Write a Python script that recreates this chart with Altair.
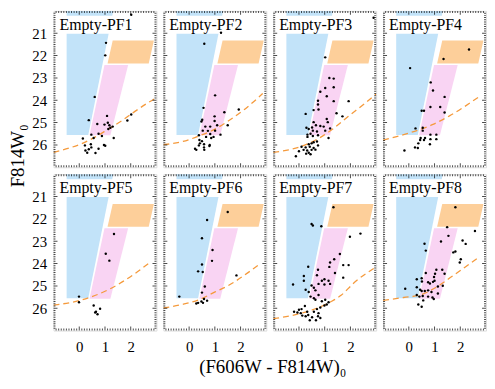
import altair as alt
import pandas as pd

FONT = "Liberation Serif"
PANELS = ["Empty-PF1", "Empty-PF2", "Empty-PF3", "Empty-PF4",
          "Empty-PF5", "Empty-PF6", "Empty-PF7", "Empty-PF8"]

X_DOMAIN = [-1, 3]
Y_DOMAIN = [20, 27]
X_TICKS = [0, 1, 2]
Y_TICKS = [21, 22, 23, 24, 25, 26]

# selection boxes (shared by all panels)
BLUE_Y = [20.0, 25.55]
BLUE_X1 = [-0.49, -0.49]
BLUE_X2 = [1.32, 0.35]
PINK_Y = [22.42, 25.57]
PINK_X1 = [0.98, 0.40]
PINK_X2 = [1.90, 1.21]
ORANGE_Y = [21.33, 22.35]
ORANGE_X1 = [1.30, 1.10]
ORANGE_X2 = [2.90, 2.70]

STAR_X = {
    "Empty-PF1": [2.02, 1.04, 1.01, 0.60, 0.37, 2.02, 1.87, 1.08, 0.70, 0.98, 1.11, 1.17, 1.30, 1.21, 1.13, 0.47, 0.75, 0.88, 0.56, 0.14, 1.34, 0.22, 0.45, 0.96, 1.01, 0.47, 0.75, 0.24, 0.37, 0.63, 0.31],
    "Empty-PF2": [1.24, 0.59, 1.01, 0.56, 1.37, 1.93, 0.51, 0.48, 0.99, 0.99, 0.63, 0.82, 1.09, 1.50, 0.53, 0.73, 1.01, 1.22, 0.38, 0.82, 0.66, 0.86, 0.95, 0.40, 0.50, 0.42, 0.58, 0.80, 0.79, 0.38, 0.58, 0.23, 0.28, 0.59],
    "Empty-PF3": [2.90, 1.02, 1.18, 1.35, 1.02, 0.83, 1.35, 1.08, 1.93, 0.74, 0.74, 1.35, 0.57, 0.76, 0.26, 1.46, 1.08, 1.69, 0.57, 1.12, 0.66, 0.51, 0.83, 0.96, 1.21, 0.29, 0.38, 0.54, 0.70, 1.02, 0.33, 0.45, 0.54, 0.33, 0.74, 1.15, 0.70, 0.57, 0.49, 0.38, 0.74, 0.10, 0.26, 0.42, 0.57, 0.18, 0.32, 0.49, 0.64, 0.00, 0.38, 0.28, 0.45, -0.12],
    "Empty-PF4": [2.34, 1.35, 0.05, 0.85, 0.94, 1.39, 1.22, 0.84, 0.50, 0.59, 1.39, 0.26, 0.54, 0.54, 0.84, 1.07, 0.46, 0.63, 0.44, 0.59, 0.84, 1.07, 0.37, 0.82, 0.24, 0.35, -0.17],
    "Empty-PF5": [1.35, 1.03, 1.17, -0.01, -0.01, 0.56, 0.81, 0.65, 0.71, 0.62],
    "Empty-PF6": [1.50, 0.70, 0.50, 0.91, 0.89, 0.50, 0.35, 0.53, 1.84, 0.61, 0.50, -0.38, 0.58, 0.70, 0.48, 0.35, 0.28, 0.54],
    "Empty-PF7": [1.34, 0.49, 0.54, 0.87, 2.39, 1.98, 1.59, 1.37, 1.21, 1.18, 1.72, 1.93, 0.36, 0.74, 1.40, 0.19, 0.19, 0.70, 0.89, 0.99, 1.15, 1.72, -0.23, 0.49, 0.58, 0.76, 0.99, 1.21, 0.26, 0.38, 0.64, 0.76, 0.45, 0.58, 0.64, 0.89, 1.02, 1.15, 1.08, 0.99, 0.23, 0.83, 0.70, 0.00, 0.10, -0.19, -0.06, 0.07, 0.32, 0.58, 0.76, 0.13, 0.26, 0.36, 0.51, 0.74, 0.42, 0.66, 0.83],
    "Empty-PF8": [1.81, 1.49, 2.57, 1.54, 1.25, 0.61, 0.66, 2.09, 2.21, 1.73, 1.81, 2.02, 1.98, 1.07, 1.30, 0.66, 1.02, 1.39, 0.98, 0.31, 0.50, 0.51, 0.75, 0.82, 0.94, 1.00, 1.13, 1.32, 0.31, 0.44, 0.50, 0.62, 0.75, 0.88, -0.14, 0.31, 0.41, 0.54, 0.75, 0.92, 1.13, 0.97, 0.56, 0.37, 0.50],
}
STAR_Y = {
    "Empty-PF1": [20.17, 21.43, 21.99, 23.85, 24.89, 24.64, 24.91, 24.70, 25.06, 25.09, 25.01, 25.12, 25.18, 25.23, 25.29, 25.54, 25.50, 25.60, 25.69, 25.71, 25.69, 26.02, 25.97, 26.00, 26.04, 26.11, 26.17, 26.25, 26.19, 26.36, 26.35],
    "Empty-PF2": [20.98, 21.47, 23.78, 24.34, 24.54, 24.41, 24.87, 24.95, 24.72, 24.93, 25.18, 25.18, 25.12, 25.12, 25.36, 25.37, 25.36, 25.54, 25.57, 25.51, 25.64, 25.69, 25.64, 25.78, 25.83, 25.93, 25.97, 26.00, 26.05, 26.02, 26.11, 26.17, 26.22, 26.22],
    "Empty-PF3": [20.31, 22.08, 23.00, 23.03, 23.45, 23.62, 23.42, 23.82, 24.04, 24.02, 24.19, 24.04, 24.44, 24.41, 24.61, 24.58, 24.84, 24.72, 24.98, 24.98, 25.12, 25.22, 25.15, 25.18, 25.26, 25.23, 25.29, 25.36, 25.40, 25.36, 25.54, 25.50, 25.60, 25.64, 25.57, 25.69, 25.85, 25.88, 25.93, 25.97, 26.02, 26.08, 26.11, 26.08, 26.14, 26.22, 26.25, 26.22, 26.21, 26.28, 26.35, 26.39, 26.42, 26.51],
    "Empty-PF4": [21.73, 22.15, 22.56, 23.20, 23.56, 23.85, 24.30, 24.30, 24.47, 24.47, 24.55, 25.26, 25.23, 25.36, 25.54, 25.54, 25.69, 25.69, 25.78, 25.78, 25.74, 25.74, 25.93, 25.97, 26.11, 26.14, 26.25],
    "Empty-PF5": [22.68, 23.56, 23.87, 25.48, 25.73, 25.88, 26.02, 26.16, 26.27, 26.19],
    "Empty-PF6": [21.69, 22.05, 22.87, 23.39, 23.88, 24.04, 24.35, 24.38, 24.53, 25.03, 25.30, 25.48, 25.59, 25.66, 25.70, 25.76, 25.79, 25.76],
    "Empty-PF7": [21.48, 22.23, 22.30, 22.33, 22.66, 22.80, 23.57, 23.81, 23.95, 24.15, 24.07, 24.07, 24.14, 24.28, 24.42, 24.56, 24.77, 24.52, 24.77, 24.70, 24.77, 24.63, 24.94, 24.98, 25.08, 24.91, 24.94, 24.91, 25.17, 25.27, 25.20, 25.41, 25.48, 25.55, 25.62, 25.69, 25.62, 25.73, 25.83, 25.88, 25.90, 25.97, 26.04, 26.07, 26.04, 26.16, 26.19, 26.22, 26.16, 26.16, 26.22, 26.33, 26.36, 26.30, 26.40, 26.36, 26.54, 26.54, 26.44],
    "Empty-PF8": [21.48, 22.37, 22.54, 22.76, 23.01, 23.11, 23.42, 22.97, 23.12, 23.50, 23.46, 23.81, 23.95, 24.28, 24.28, 24.42, 24.46, 24.46, 24.60, 24.70, 24.66, 24.80, 24.84, 24.89, 24.82, 24.77, 25.03, 24.99, 25.06, 25.17, 25.23, 25.23, 25.20, 25.27, 25.13, 25.41, 25.48, 25.45, 25.48, 25.52, 25.34, 25.59, 25.65, 25.83, 25.93],
}

# completeness limit curves
CURVE_X = {
    "Empty-PF1": [-1.0, -0.39, 0.12, 0.63, 1.13, 1.64, 2.15, 2.66, 3.0],
    "Empty-PF2": [-1.0, -0.26, 0.38, 1.01, 1.52, 2.15, 2.86],
    "Empty-PF3": [-1.0, -0.4, 0.2, 0.76, 1.3, 1.92, 2.54, 3.0],
    "Empty-PF4": [-1.0, -0.2, 0.94, 1.58, 2.72],
    "Empty-PF5": [-1.0, 0.12, 1.13, 2.15, 2.72],
    "Empty-PF6": [-1.0, -0.26, 0.38, 1.01, 1.52, 2.15, 2.72],
    "Empty-PF7": [-1.0, 0.13, 0.76, 1.27, 1.65, 2.16, 2.92],
    "Empty-PF8": [-1.0, -0.2, 0.43, 1.07, 1.70, 2.21, 2.72],
}
CURVE_Y = {
    "Empty-PF1": [26.33, 26.14, 25.93, 25.64, 25.29, 24.93, 24.51, 24.12, 23.88],
    "Empty-PF2": [25.99, 25.85, 25.60, 25.29, 24.93, 24.41, 23.70],
    "Empty-PF3": [26.33, 26.22, 26.02, 25.71, 25.30, 24.72, 24.16, 23.72],
    "Empty-PF4": [25.78, 25.54, 25.08, 24.70, 23.85],
    "Empty-PF5": [25.86, 25.62, 25.17, 24.46, 23.97],
    "Empty-PF6": [25.99, 25.83, 25.62, 25.27, 24.99, 24.52, 24.04],
    "Empty-PF7": [26.47, 26.21, 25.97, 25.69, 25.41, 24.84, 24.21],
    "Empty-PF8": [25.65, 25.52, 25.41, 25.06, 24.56, 24.14, 23.72],
}

BLUE = "#c2e3f9"
PINK = "#f9d4f3"
ORANGE = "#fdcf9a"
CURVE_COLOR = "#f59a3c"

W, H = 104, 158
SPACING = 7

Y_MINOR = [round(20 + 0.1 * k, 1) for k in range(1, 70)]
X_MINOR = [round(-1 + 0.1 * k, 1) for k in range(1, 40)]
ytick_df = pd.DataFrame({"y": Y_MINOR,
                         "len": [8 if abs(v - round(v)) < 1e-6 else 4 for v in Y_MINOR]})
xtick_df = pd.DataFrame({"x": X_MINOR,
                         "len": [8 if abs(v - round(v)) < 1e-6 else 4 for v in X_MINOR]})


def panel(i, name):
    row, col = divmod(i, 4)
    xs = alt.Scale(domain=X_DOMAIN, nice=False, zero=False)
    ys = alt.Scale(domain=Y_DOMAIN, nice=False, zero=False, reverse=True)

    if row == 1:
        xkw = dict(values=X_TICKS, ticks=False, domain=False, grid=False,
                   labelPadding=9, labelFontSize=15, labelFont=FONT,
                   labelColor="black")
        if col == 0:
            xaxis = alt.Axis(title="(F606W - F814W)₀", titleFont=FONT,
                             titleFontSize=19, titleFontWeight="normal",
                             titleColor="black", titleX=221, titleY=27,
                             titleAlign="center", titleBaseline="top", **xkw)
        else:
            xaxis = alt.Axis(title="", **xkw)
    else:
        xaxis = None

    if col == 0:
        ykw = dict(values=Y_TICKS, ticks=False, domain=False, grid=False,
                   labelPadding=7, labelFontSize=15, labelFont=FONT,
                   labelColor="black")
        if row == 0:
            yaxis = alt.Axis(title="F814W₀", titleFont=FONT, titleFontSize=19,
                             titleFontWeight="normal", titleColor="black",
                             titleX=-36, titleY=146, titleAngle=270,
                             titleAlign="center", titleBaseline="middle", **ykw)
        else:
            yaxis = alt.Axis(title="", **ykw)
    else:
        yaxis = None

    X = alt.X("x:Q", scale=xs, axis=xaxis)
    Y = alt.Y("y:Q", scale=ys, axis=yaxis)

    def box(ys_, x1, x2, color):
        df = pd.DataFrame({"y": ys_, "x": x1, "x2": x2})
        return alt.Chart(df).mark_area(orient="horizontal", color=color,
                                       opacity=1).encode(y=Y, x=X, x2="x2:Q")

    blue = box(BLUE_Y, BLUE_X1, BLUE_X2, BLUE)
    pink = box(PINK_Y, PINK_X1, PINK_X2, PINK)
    orange = box(ORANGE_Y, ORANGE_X1, ORANGE_X2, ORANGE)

    one = pd.DataFrame({"label": [name]})
    label_box = alt.Chart(one).mark_rect(color="white").encode(
        x=alt.value(3), x2=alt.value(82), y=alt.value(5), y2=alt.value(23))

    curve = alt.Chart(pd.DataFrame({"x": CURVE_X[name], "y": CURVE_Y[name]})).mark_line(
        color=CURVE_COLOR, strokeDash=[6, 4], strokeWidth=1.3,
        interpolate="monotone", clip=True).encode(x=X, y=Y)

    stars = alt.Chart(pd.DataFrame({"x": STAR_X[name], "y": STAR_Y[name]})).mark_circle(
        color="black", size=6, opacity=1, clip=True).encode(x=X, y=Y)

    label = alt.Chart(one).mark_text(
        font=FONT, fontSize=16, align="left", baseline="alphabetic",
        color="black").encode(x=alt.value(6), y=alt.value(19), text="label:N")

    tk = dict(color="black", thickness=1, clip=True)
    left = alt.Chart(ytick_df).mark_tick(orient="horizontal", **tk).encode(
        y=Y, x=alt.value(0), size=alt.Size("len:Q", scale=None))
    right = alt.Chart(ytick_df).mark_tick(orient="horizontal", **tk).encode(
        y=Y, x=alt.value(W), size=alt.Size("len:Q", scale=None))
    top = alt.Chart(xtick_df).mark_tick(orient="vertical", **tk).encode(
        x=X, y=alt.value(0), size=alt.Size("len:Q", scale=None))
    bottom = alt.Chart(xtick_df).mark_tick(orient="vertical", **tk).encode(
        x=X, y=alt.value(H), size=alt.Size("len:Q", scale=None))

    return alt.layer(blue, pink, orange, label_box, curve, stars, label,
                     left, right, top, bottom).properties(width=W, height=H)


panels = [panel(i, n) for i, n in enumerate(PANELS)]

chart = alt.concat(*panels, columns=4, spacing=SPACING, bounds="flush").properties(
    padding={"left": 0, "top": 0, "right": 0, "bottom": 0}
).configure_view(stroke="black", strokeWidth=1).configure(background="white")

chart.save("out.html", embed_options={"renderer": "svg", "actions": False})
